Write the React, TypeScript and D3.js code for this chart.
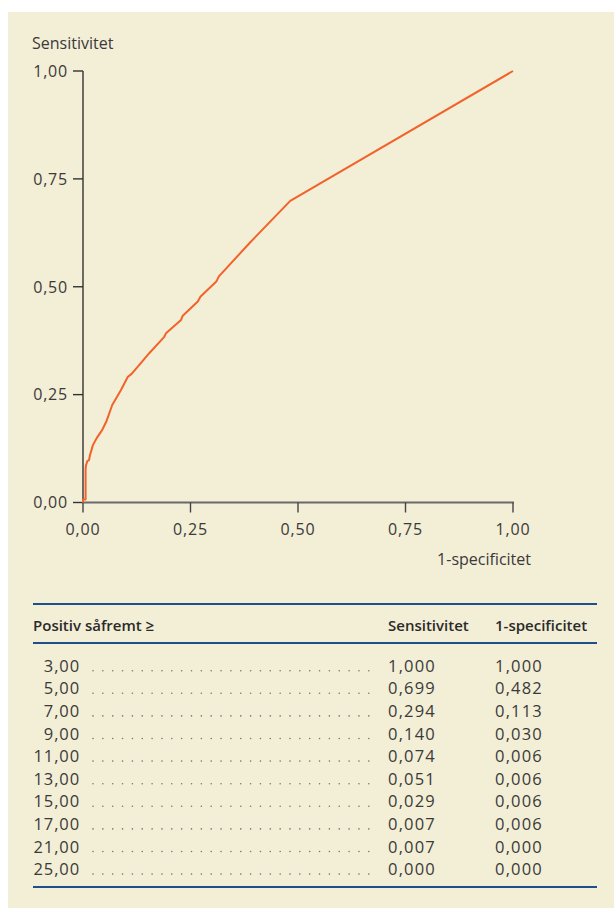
import React from "react";
import * as d3 from "d3";

// ROC curve points
const rocSpec = [0, 0, 0.006, 0.006, 0.007, 0.010, 0.014, 0.016, 0.019, 0.023, 0.033, 0.044, 0.054, 0.068, 0.088, 0.104, 0.113, 0.131, 0.154, 0.189, 0.193, 0.228, 0.232, 0.267, 0.273, 0.310, 0.316, 0.388, 0.482, 1.0];
const rocSens = [0, 0.007, 0.007, 0.077, 0.086, 0.096, 0.098, 0.109, 0.119, 0.133, 0.151, 0.167, 0.187, 0.226, 0.260, 0.291, 0.298, 0.319, 0.346, 0.384, 0.392, 0.423, 0.433, 0.466, 0.477, 0.512, 0.524, 0.602, 0.699, 1.0];

const axisTicks = [0, 0.25, 0.5, 0.75, 1.0];

// Table
const thresholds = [3, 5, 7, 9, 11, 13, 15, 17, 21, 25];
const tableSens = [1.0, 0.699, 0.294, 0.14, 0.074, 0.051, 0.029, 0.007, 0.007, 0.0];
const tableSpec = [1.0, 0.482, 0.113, 0.03, 0.006, 0.006, 0.006, 0.006, 0.0, 0.0];

const W = 614;
const H = 909;
const BG = "#f3eed6";
const TXT = "#3a3a3a";
const BLUE = "#1f4f8a";
const ORANGE = "#f2622a";
const FONT = "'Open Sans', 'Noto Sans', sans-serif";

const comma = (s: string) => s.replace(".", ",");
const f2 = (v: number) => comma(d3.format(".2f")(v));
const f3 = (v: number) => comma(d3.format(".3f")(v));

export default function App() {
  const x = d3.scaleLinear().domain([0, 1]).range([83, 513]);
  const y = d3.scaleLinear().domain([0, 1]).range([502.5, 71]);
  const pts: [number, number][] = rocSpec.map((s, i) => [s, rocSens[i]]);
  const line = d3
    .line<[number, number]>()
    .x((d) => x(d[0]))
    .y((d) => y(d[1]));

  const rowY0 = 671.7;
  const rowStep = 22.6;
  const dotXs = d3.range(29).map((i) => 93 + i * 9.85);

  return (
    <div style={{ position: "absolute", left: 0, top: 0 }}>
      <svg width={W} height={H} style={{ display: "block", fontFamily: FONT }}>
        <rect x={0} y={0} width={W} height={H} fill="#ffffff" />
        <rect x={8} y={12} width={W - 8} height={896} fill={BG} />

        {/* y axis title */}
        <text x={32} y={49} fontSize={16} fill={TXT}>
          Sensitivitet
        </text>

        {/* y axis */}
        <line x1={x(0)} x2={x(0)} y1={y(1)} y2={y(0)} stroke="#333" strokeWidth={1.4} />
        {axisTicks.map((t) => (
          <g key={"yt" + t}>
            <line x1={x(0) - 10} x2={x(0)} y1={y(t)} y2={y(t)} stroke="#333" strokeWidth={1.4} />
            <text x={68} y={y(t)} dy="0.36em" textAnchor="end" fontSize={16} letterSpacing={0.8} fill={TXT}>
              {f2(t)}
            </text>
          </g>
        ))}

        {/* x axis */}
        <line x1={x(0) - 1} x2={x(1) + 1} y1={y(0)} y2={y(0)} stroke="#6a6a6a" strokeWidth={2} />
        {axisTicks.map((t) => (
          <g key={"xt" + t}>
            <line x1={x(t)} x2={x(t)} y1={y(0)} y2={y(0) + 10} stroke="#444" strokeWidth={1.4} />
            <text x={x(t)} y={535} textAnchor="middle" fontSize={16} letterSpacing={0.8} fill={TXT}>
              {f2(t)}
            </text>
          </g>
        ))}
        <text x={531} y={565} textAnchor="end" fontSize={16} fill={TXT}>
          1-specificitet
        </text>

        {/* ROC curve */}
        <path d={line(pts) || ""} fill="none" stroke={ORANGE} strokeWidth={2} strokeLinejoin="round" />

        {/* Table */}
        <line x1={33} x2={597} y1={604} y2={604} stroke={BLUE} strokeWidth={2} />
        <text x={33} y={631} fontSize={15} fontWeight={600} fill="#2a2a2a">
          Positiv såfremt ≥
        </text>
        <text x={388} y={631} fontSize={15} fontWeight={600} fill="#2a2a2a">
          Sensitivitet
        </text>
        <text x={495} y={631} fontSize={15} fontWeight={600} fill="#2a2a2a">
          1-specificitet
        </text>
        <line x1={33} x2={597} y1={643} y2={643} stroke={BLUE} strokeWidth={2} />

        {thresholds.map((t, i) => {
          const by = rowY0 + i * rowStep;
          return (
            <g key={"row" + t}>
              <text x={80} y={by} textAnchor="end" fontSize={16.5} letterSpacing={0.9} fill={TXT}>
                {f2(t)}
              </text>
              {dotXs.map((dx) => (
                <circle key={dx} cx={dx} cy={by - 1} r={0.8} fill="#777" />
              ))}
              <text x={388} y={by} fontSize={16.5} letterSpacing={1.2} fill={TXT}>
                {f3(tableSens[i])}
              </text>
              <text x={495} y={by} fontSize={16.5} letterSpacing={1.2} fill={TXT}>
                {f3(tableSpec[i])}
              </text>
            </g>
          );
        })}
        <line x1={33} x2={597} y1={887} y2={887} stroke={BLUE} strokeWidth={2} />
      </svg>
    </div>
  );
}
